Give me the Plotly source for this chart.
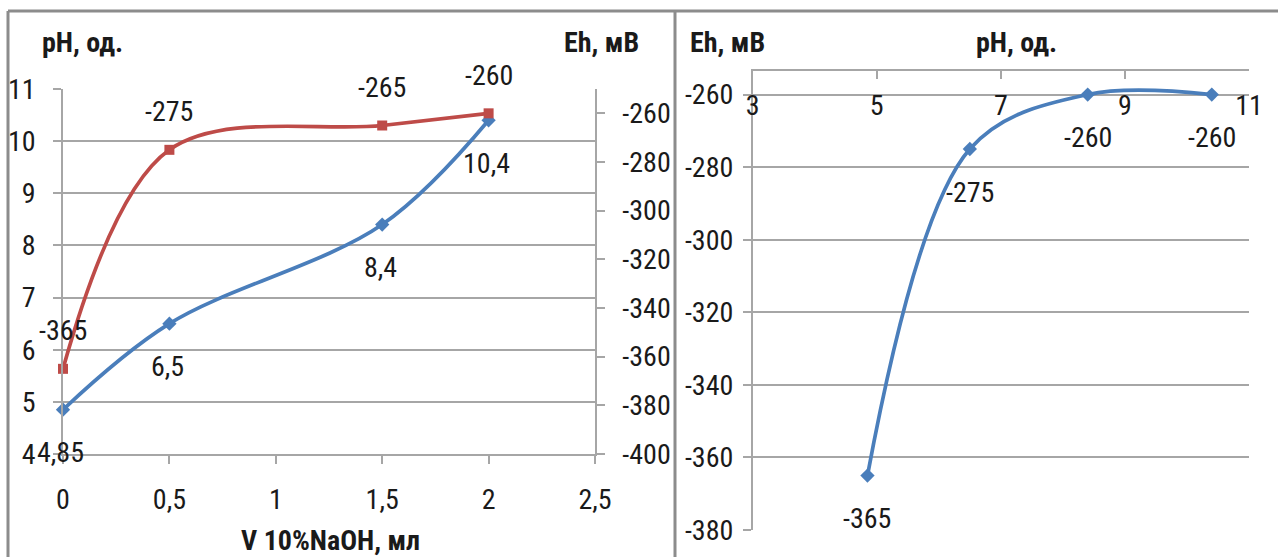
import plotly.graph_objects as go

# ---------------- data ----------------
volume_ml = [0, 0.5, 1.5, 2]
ph_values = [4.85, 6.5, 8.4, 10.4]
eh_values = [-365, -275, -265, -260]

right_ph = [4.85, 6.5, 8.4, 10.4]
right_eh = [-365, -275, -260, -260]

vol_ticks = [0, 0.5, 1, 1.5, 2, 2.5]
ph_ticks = [4, 5, 6, 7, 8, 9, 10, 11]
eh_ticks_left = [-400, -380, -360, -340, -320, -300, -280, -260]
eh_ticks_right = [-380, -360, -340, -320, -300, -280, -260]
ph_ticks_right = [3, 5, 7, 9, 11]

# ---------------- styles ----------------
W, H = 1278, 557
FONT = "Liberation Sans Narrow, Arial Narrow, Roboto Condensed, sans-serif"
BLUE = "#4A7EBB"
RED = "#BE4B48"
GRID = "#A6A6A6"
TXT = "#1a1a1a"
TICK_SIZE = 28
TITLE_SIZE = 28


def fmt(v):
    return ("%g" % v).replace(".", ",")


def px(x):
    return x / W


def py(y):
    return 1 - y / H


fig = go.Figure()

# left chart: pH and Eh vs volume
fig.add_trace(go.Scatter(
    x=volume_ml, y=ph_values, mode="lines+markers", cliponaxis=False,
    line=dict(color=BLUE, width=3.7, shape="spline", smoothing=1),
    marker=dict(symbol="diamond", size=11, color=BLUE),
    xaxis="x", yaxis="y", showlegend=False))
fig.add_trace(go.Scatter(
    x=volume_ml, y=eh_values, mode="lines+markers", cliponaxis=False,
    line=dict(color=RED, width=3.7, shape="spline", smoothing=1),
    marker=dict(symbol="square", size=10, color=RED),
    xaxis="x", yaxis="y2", showlegend=False))

# right chart: Eh vs pH
fig.add_trace(go.Scatter(
    x=right_ph, y=right_eh, mode="lines+markers", cliponaxis=False,
    line=dict(color=BLUE, width=3.7, shape="spline", smoothing=1),
    marker=dict(symbol="diamond", size=11, color=BLUE),
    xaxis="x2", yaxis="y3", showlegend=False))
# carrier for the pH tick-label axis of the right chart (draws nothing)
fig.add_trace(go.Scatter(
    x=right_ph, y=right_eh, mode="none", hoverinfo="skip",
    xaxis="x3", yaxis="y3", showlegend=False))

lab_font = dict(family=FONT, size=TICK_SIZE, color=TXT)
annotations = []
for xv, yv in zip(volume_ml, ph_values):
    annotations.append(dict(x=xv, y=yv, xref="x", yref="y", text=fmt(yv),
                            showarrow=False, yshift=-43, xshift=-2, font=lab_font))
for xv, yv in zip(volume_ml, eh_values):
    annotations.append(dict(x=xv, y=yv, xref="x", yref="y2", text=fmt(yv),
                            showarrow=False, yshift=38, font=lab_font))
for xv, yv in zip(right_ph, right_eh):
    annotations.append(dict(x=xv, y=yv, xref="x2", yref="y3", text=fmt(yv),
                            showarrow=False, yshift=-43, font=lab_font))

for text, x, y in [("pH, од.", 83, 42), ("Eh, мВ", 601, 42),
                   ("V 10%NaOH, мл", 330, 540),
                   ("Eh, мВ", 727, 42), ("pH, од.", 1016, 42)]:
    annotations.append(dict(x=px(x), y=py(y), xref="paper", yref="paper",
                            text="<b>%s</b>" % text, showarrow=False,
                            xanchor="center", yanchor="middle",
                            font=dict(family=FONT, size=TITLE_SIZE, color=TXT)))

FRAME = "#8C8C8C"
shapes = [
    dict(type="line", xref="paper", yref="paper", x0=px(8), x1=1.0,
         y0=py(11), y1=py(11), line=dict(color=FRAME, width=3)),
    dict(type="line", xref="paper", yref="paper", x0=px(8), x1=px(8),
         y0=py(11), y1=0, line=dict(color=FRAME, width=3)),
    dict(type="line", xref="paper", yref="paper", x0=px(675), x1=px(675),
         y0=py(11), y1=0, line=dict(color=FRAME, width=3)),
]

axis_common = dict(showline=True, linecolor=GRID, linewidth=1.5,
                   tickcolor=GRID, tickwidth=1.5, ticklen=8,
                   tickfont=lab_font, zeroline=False, automargin=False)

fig.update_layout(
    width=W, height=H,
    margin=dict(l=0, r=0, t=0, b=0),
    paper_bgcolor="white", plot_bgcolor="white",
    separators=", ",
    annotations=annotations,
    shapes=shapes,
    xaxis=dict(domain=[px(63), px(595)], range=[0, 2.5], anchor="y",
               tickvals=vol_ticks, ticktext=[fmt(v) for v in vol_ticks],
               ticks="outside", showgrid=False, ticklabelstandoff=12,
               **axis_common),
    yaxis=dict(domain=[py(454), py(89)], range=[4, 11], anchor="x",
               tickvals=ph_ticks, ticktext=[fmt(v) for v in ph_ticks],
               ticks="outside", showgrid=True, gridcolor=GRID, gridwidth=1.5,
               ticklabelstandoff=12, **axis_common),
    yaxis2=dict(range=[-400, -250], overlaying="y", side="right", anchor="x",
                tickvals=eh_ticks_left, ticktext=[fmt(v) for v in eh_ticks_left],
                ticks="outside", showgrid=False, ticklabelstandoff=12,
                **axis_common),
    xaxis2=dict(domain=[px(752.7), px(1249)], range=[3, 11], anchor="y3",
                side="top", tickvals=ph_ticks_right,
                ticks="inside", showticklabels=False,
                showgrid=False, **axis_common),
    xaxis3=dict(overlaying="x2", range=[3, 11], anchor="free",
                position=py(86), side="bottom",
                tickvals=ph_ticks_right,
                ticktext=[fmt(v) for v in ph_ticks_right],
                showline=False, ticks="", showgrid=False, zeroline=False,
                tickfont=lab_font, automargin=False, ticklabelstandoff=0),
    yaxis3=dict(domain=[py(530), py(71)], range=[-380, -253.5], anchor="x2",
                tickvals=eh_ticks_right, ticktext=[fmt(v) for v in eh_ticks_right],
                ticks="outside", showgrid=True, gridcolor=GRID, gridwidth=1.5,
                ticklabelstandoff=4, **axis_common),
)

fig.write_html("out.html",
               config={"displayModeBar": False},
               post_script="document.body.style.margin='0';"
                           "document.body.style.padding='0';")
